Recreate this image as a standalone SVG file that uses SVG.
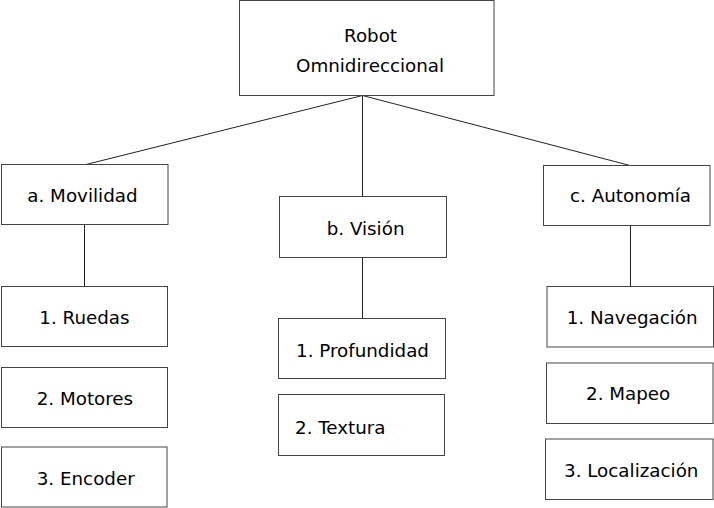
<svg xmlns="http://www.w3.org/2000/svg" width="714" height="508" viewBox="0 0 714 508">
<style>
.box{fill:#fff;stroke:#444;stroke-width:1}
.lbl{font-family:"DejaVu Sans",sans-serif;font-size:18.3px;fill:#000}
.con{stroke:#222;stroke-width:1;fill:none}
</style>
<rect width="714" height="508" fill="#fff"/>
<g id="connectors">
<line class="con" x1="362.5" y1="95.5" x2="86" y2="164.5"/>
<line class="con" x1="362.5" y1="95.5" x2="362.5" y2="196.5"/>
<line class="con" x1="362.5" y1="95.5" x2="630" y2="165.5"/>
<line class="con" x1="84.5" y1="224.5" x2="84.5" y2="286.5"/>
<line class="con" x1="362.5" y1="257.5" x2="362.5" y2="318.5"/>
<line class="con" x1="630.5" y1="225.5" x2="630.5" y2="286.5"/>
</g>
<g id="root">
<rect class="box" x="239.5" y="0.5" width="254.5" height="95"/>
<text class="lbl" x="344" y="42">Robot</text>
<text class="lbl" x="296" y="72">Omnidireccional</text>
</g>
<g id="movilidad">
<rect class="box" x="1.5" y="164.5" width="166.5" height="60"/>
<text class="lbl" x="27.3" y="202" font-size="17">a. Movilidad</text>
</g>
<g id="vision">
<rect class="box" x="279.5" y="196.5" width="167" height="61"/>
<text class="lbl" x="326.7" y="234.5">b. Visión</text>
</g>
<g id="autonomia">
<rect class="box" x="543.5" y="165.5" width="166.5" height="60"/>
<text class="lbl" x="570" y="202">c. Autonomía</text>
</g>
<g id="ruedas">
<rect class="box" x="1.5" y="286.5" width="166" height="60"/>
<text class="lbl" x="39.3" y="323.5">1. Ruedas</text>
</g>
<g id="motores">
<rect class="box" x="1.5" y="367.5" width="166" height="60"/>
<text class="lbl" x="36.7" y="405">2. Motores</text>
</g>
<g id="encoder">
<rect class="box" x="1.5" y="447" width="165.5" height="60"/>
<text class="lbl" x="36.7" y="485">3. Encoder</text>
</g>
<g id="profundidad">
<rect class="box" x="278.5" y="318.5" width="167" height="60"/>
<text class="lbl" x="296" y="357">1. Profundidad</text>
</g>
<g id="textura">
<rect class="box" x="278.5" y="394.5" width="166" height="61"/>
<text class="lbl" x="295" y="434" font-size="17.3">2. Textura</text>
</g>
<g id="navegacion">
<rect class="box" x="547" y="286.5" width="166.5" height="60.5"/>
<text class="lbl" x="566.7" y="323.5">1. Navegación</text>
</g>
<g id="mapeo">
<rect class="box" x="546.5" y="363" width="166.5" height="60.5"/>
<text class="lbl" x="586" y="400">2. Mapeo</text>
</g>
<g id="localizacion">
<rect class="box" x="545.5" y="439" width="167.5" height="60.5"/>
<text class="lbl" x="564" y="477">3. Localización</text>
</g>
</svg>
